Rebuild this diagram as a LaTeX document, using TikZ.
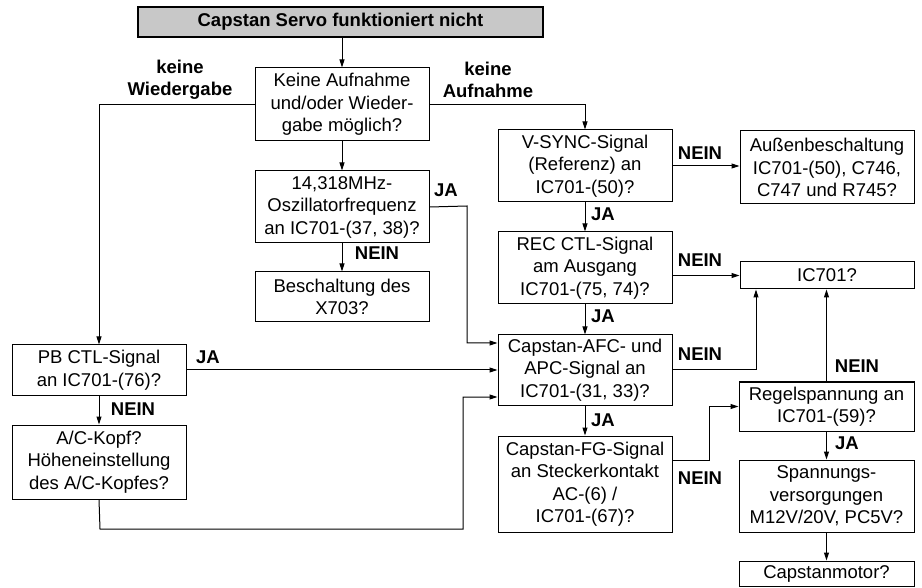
\documentclass[tikz,border=0pt]{standalone}
\usepackage{fontspec}
\setmainfont{Liberation Sans}
\usetikzlibrary{arrows.meta}
\begin{document}
\begin{tikzpicture}[x=1pt,y=-1pt,
  box/.style={draw=black, line width=1pt, fill=white, align=center, inner sep=0pt,
    font=\fontsize{18.5}{22.5}\selectfont},
  lbl/.style={align=center, inner sep=0pt, font=\fontsize{18.5}{22.5}\selectfont\bfseries},
  arr/.style={draw=black, line width=1pt, -{Triangle[length=8pt,width=5pt]}},
  ln/.style={draw=black, line width=1pt}]
\useasboundingbox (0,0) rectangle (922,588);
% boxes
\node[box, fill={rgb,255:red,200;green,200;blue,200}, line width=1.4pt, minimum width=405pt, minimum height=30pt, font=\fontsize{18.5}{22.5}\selectfont\bfseries] (top) at (340.5,22) {Capstan Servo funktioniert nicht};
\node[box, minimum width=174pt, minimum height=73pt] (ka) at (342,104.5) {Keine Aufnahme\\und/oder Wieder-\\gabe möglich?};
\node[box, minimum width=174pt, minimum height=72pt] (osz) at (342,207) {14,318MHz-\\Oszillatorfrequenz\\an IC701-(37, 38)?};
\node[box, minimum width=174pt, minimum height=50pt] (besch) at (342,297) {Beschaltung des\\X703?};
\node[box, minimum width=174pt, minimum height=72pt] (vsync) at (585,166) {V-SYNC-Signal\\(Referenz) an\\IC701-(50)?};
\node[box, minimum width=174pt, minimum height=73pt] (aussen) at (827,167.5) {Außenbeschaltung\\IC701-(50), C746,\\C747 und R745?};
\node[box, minimum width=174pt, minimum height=72pt] (rec) at (585,268) {REC CTL-Signal\\am Ausgang\\IC701-(75, 74)?};
\node[box, minimum width=174pt, minimum height=27pt] (ic) at (827,275.5) {IC701?};
\node[box, minimum width=174pt, minimum height=70pt] (afc) at (585,370) {Capstan-AFC- und\\APC-Signal an\\IC701-(31, 33)?};
\node[box, minimum width=174pt, minimum height=96pt] (fg) at (585,484) {Capstan-FG-Signal\\an Steckerkontakt\\AC-(6) /\\IC701-(67)?};
\node[box, minimum width=175pt, minimum height=49pt] (regel) at (826.5,406.5) {Regelspannung an\\IC701-(59)?};
\node[box, minimum width=175pt, minimum height=72pt] (spann) at (826.5,496) {Spannungs-\\versorgungen\\M12V/20V, PC5V?};
\node[box, minimum width=175pt, minimum height=25pt] (motor) at (826.5,573.5) {Capstanmotor?};
\node[box, minimum width=174pt, minimum height=50pt] (pb) at (99,370) {PB CTL-Signal\\an IC701-(76)?};
\node[box, minimum width=174pt, minimum height=74pt] (ac) at (99,462) {A/C-Kopf?\\Höheneinstellung\\des A/C-Kopfes?};
% helper coordinates
\coordinate (oszturn) at (467,206);
\coordinate (acturn) at (100,529);
\coordinate (acturn2) at (463,529);
\coordinate (afcturn) at (756,370);
\coordinate (fgturn) at (709,460);
% connectors
\draw[arr] (ka.north |- top.south) -- (ka.north);
\draw[arr] (ka.south) -- (osz.north);
\draw[arr] (osz.south) -- (besch.north);
\draw[arr] (ka.west) -| (pb.north);
\draw[arr] (ka.east) -| (vsync.north);
\draw[arr] (osz.east) -- (oszturn) |- ([yshift=27pt]afc.west);
\draw[arr] (vsync.east) -- (vsync.east -| aussen.west);
\draw[arr] (vsync.south) -- (rec.north);
\draw[arr] (ic.west -| rec.east) -- (ic.west);
\draw[arr] (rec.south) -- (afc.north);
\draw[arr] (pb.east) -- (afc.west);
\draw[arr] (pb.south) -- (ac.north);
\draw[arr] (ac.south) -- (acturn) -- (acturn2) |- ([yshift=-27pt]afc.west);
\draw[arr] (afc.east) -- (afcturn) -- (afcturn |- ic.south);
\draw[arr] (afc.south) -- (fg.north);
\draw[arr] ([yshift=24pt]fg.east) -- (fgturn) |- (regel.west);
\draw[arr] (regel.north) -- (regel.north |- ic.south);
\draw[arr] (regel.south) -- (spann.north);
\draw[arr] (spann.south) -- (motor.north);
% labels
\node[lbl] (l1) at (180,80) {keine\\Wiedergabe};
\node[lbl] (l2) at (488,80) {keine\\Aufnahme};
\node[lbl] (l3) at (446,190) {JA};
\node[lbl] (l4) at (377,253) {NEIN};
\node[lbl] (l5) at (700,153) {NEIN};
\node[lbl] (l6) at (603,214) {JA};
\node[lbl] (l7) at (700,260) {NEIN};
\node[lbl] (l8) at (603,316) {JA};
\node[lbl] (l9) at (700,354) {NEIN};
\node[lbl] (l10) at (857,366) {NEIN};
\node[lbl] (l11) at (208,357) {JA};
\node[lbl] (l12) at (133,409) {NEIN};
\node[lbl] (l13) at (603,420) {JA};
\node[lbl] (l14) at (700,478) {NEIN};
\node[lbl] (l15) at (847,443) {JA};
\end{tikzpicture}
\end{document}
